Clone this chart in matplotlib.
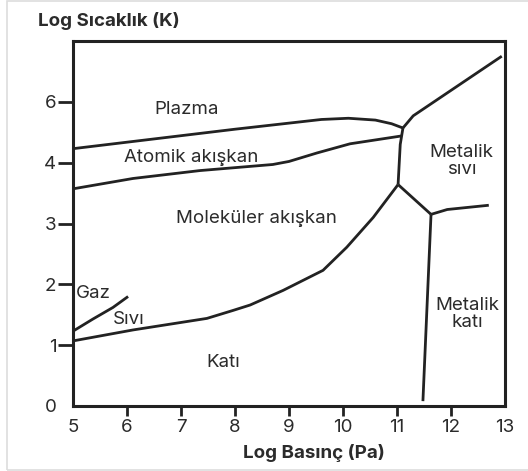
import matplotlib.pyplot as plt
from matplotlib.patches import Rectangle

plt.rcParams['font.family'] = ['Inter', 'DejaVu Sans']

# phase boundaries (log pressure, log temperature)
plazma_x = [5, 6.5, 8, 9, 9.6, 10.1, 10.6, 10.9, 11.11]
plazma_y = [4.23, 4.39, 4.55, 4.65, 4.71, 4.73, 4.70, 4.64, 4.57]

atomik_x = [5, 6.11, 7.35, 8.7, 9.0, 9.52, 10.13, 11.09]
atomik_y = [3.57, 3.74, 3.87, 3.97, 4.02, 4.16, 4.31, 4.44]

ust_x = [11.11, 11.30, 12.94]
ust_y = [4.57, 4.77, 5.75]

dikey_x = [11.11, 11.06, 11.02]
dikey_y = [4.57, 4.30, 3.64]

erime_x = [5, 6.11, 7.48, 7.96, 8.28, 8.89, 9.63, 10.07, 10.56, 11.02]
erime_y = [1.07, 1.25, 1.44, 1.57, 1.66, 1.90, 2.23, 2.61, 3.10, 3.64]

metal_x = [11.02, 11.63]
metal_y = [3.64, 3.15]

metal_sk_x = [11.63, 11.93, 12.70]
metal_sk_y = [3.15, 3.23, 3.30]

metal_kat_x = [11.63, 11.48]
metal_kat_y = [3.15, 0.08]

gaz_x = [5, 5.37, 5.74, 6.02]
gaz_y = [1.23, 1.43, 1.62, 1.80]

x_ticks = [5, 6, 7, 8, 9, 10, 11, 12, 13]
y_ticks = [0, 1, 2, 3, 4, 5]
y_tick_labels = ['0', '1', '2', '3', '4', '6']

bolgeler = [
    ('Plazma', 7.11, 4.87),
    ('Atomik akışkan', 7.19, 4.08),
    ('Moleküler akışkan', 8.39, 3.08),
    ('Metalik\nsıvı', 12.2, 4.03),
    ('Metalik\nkatı', 12.3, 1.51),
    ('Gaz', 5.37, 1.85),
    ('Sıvı', 6.04, 1.43),
    ('Katı', 7.78, 0.72),
]

ink = '#222222'
txt = '#2b2b2b'
fs = 13.5

fig = plt.figure(figsize=(5.28, 4.71), dpi=100)
fig.patches.append(Rectangle((7 / 528, 1 / 471), 1, 469 / 471, transform=fig.transFigure,
                             fill=False, edgecolor='#dddddd', linewidth=1.2))
ax = fig.add_axes([73 / 528, 65 / 471, 432 / 528, 365 / 471])

lw = 2.0
for xs, ys in [(plazma_x, plazma_y), (atomik_x, atomik_y), (ust_x, ust_y),
               (dikey_x, dikey_y), (erime_x, erime_y), (metal_x, metal_y),
               (metal_sk_x, metal_sk_y), (metal_kat_x, metal_kat_y), (gaz_x, gaz_y)]:
    ax.plot(xs, ys, color=ink, linewidth=lw, solid_capstyle='butt')

for label, x, y in bolgeler:
    ax.text(x, y, label, ha='center', va='center', fontsize=fs, color=txt,
            linespacing=1.05)

ax.set_xlim(5, 13)
ax.set_ylim(0, 6)
ax.set_xticks(x_ticks)
ax.set_yticks(y_ticks)
ax.set_yticklabels(y_tick_labels)
ax.tick_params(axis='x', direction='out', length=7, width=2, color=ink,
               labelsize=fs, labelcolor=txt, pad=2)
ax.tick_params(axis='y', direction='out', length=11, width=2, color=ink,
               labelsize=fs, labelcolor=txt, pad=1)
for t in [ax.xaxis.get_major_ticks()[0], ax.xaxis.get_major_ticks()[-1],
          ax.yaxis.get_major_ticks()[0]]:
    t.tick1line.set_visible(False)
for s in ax.spines.values():
    s.set_linewidth(2.2)
    s.set_color(ink)

fig.text(38 / 528, 1 - 21 / 471, 'Log Sıcaklık (K)', ha='left', va='center',
         fontsize=fs, fontweight='bold', color=txt)
fig.text(314 / 528, 1 - 453 / 471, 'Log Basınç (Pa)', ha='center', va='center',
         fontsize=fs, fontweight='bold', color=txt)

fig.savefig('out.png', dpi=100)
